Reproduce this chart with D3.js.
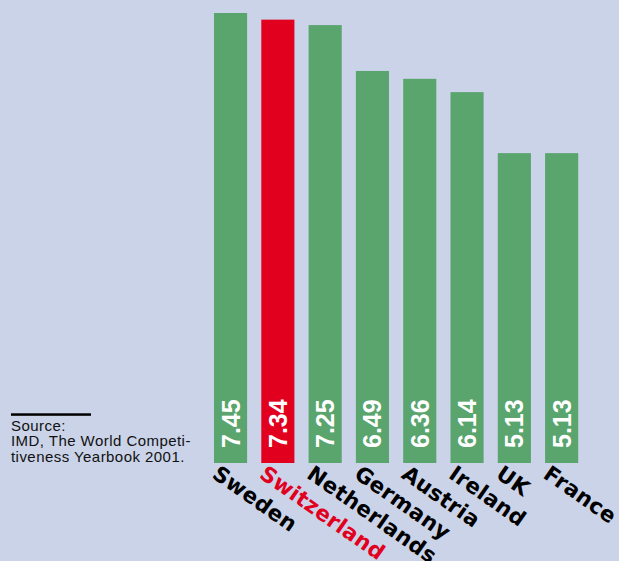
<!DOCTYPE html>
<html><head><meta charset="utf-8">
<script src="https://cdn.jsdelivr.net/npm/d3@7"></script>
<style>
html,body{margin:0;padding:0;background:#cad3e8;}
svg{display:block;}
</style></head>
<body>
<script>
const countries = ["Sweden","Switzerland","Netherlands","Germany","Austria","Ireland","UK","France"];
const values = [7.45,7.34,7.25,6.49,6.36,6.14,5.13,5.13];
const highlight = "Switzerland";
const sourceLines = ["Source:","IMD, The World Competi-","tiveness Yearbook 2001."];

const W = 619, H = 561;
const bg = "#cad3e8", green = "#5aa46e", red = "#e2001f";

const svg = d3.select("body").append("svg").attr("width", W).attr("height", H);
svg.append("rect").attr("width", W).attr("height", H).attr("fill", bg);

const x = d3.scaleBand().domain(countries).range([206.9, 585.3]).paddingInner(0.3).paddingOuter(0.15);
const y = d3.scaleLinear().domain([0, 7.45]).range([463, 13]);

const data = countries.map((c,i)=>({c, v: values[i]}));

svg.selectAll("rect.bar").data(data).join("rect").attr("class","bar")
  .attr("x", d=>x(d.c)).attr("width", x.bandwidth())
  .attr("y", d=>y(d.v)).attr("height", d=>y(0)-y(d.v))
  .attr("fill", d=>d.c===highlight?red:green);

svg.selectAll("text.val").data(data).join("text").attr("class","val")
  .attr("transform", d=>`translate(${x(d.c)+x.bandwidth()/2},448) rotate(-90)`)
  .attr("dy","0.36em")
  .attr("text-anchor","start")
  .attr("fill","#fff")
  .style("font-family","'Liberation Sans', Arial, sans-serif")
  .style("font-weight","bold")
  .style("font-size","25px")
  .text(d=>d.v.toFixed(2));

svg.selectAll("text.cat").data(data).join("text").attr("class","cat")
  .attr("transform", d=>`translate(${x(d.c)-3},477) rotate(35)`)
  .attr("fill", d=>d.c===highlight?red:"#000")
  .style("font-family","'DejaVu Sans', sans-serif")
  .style("font-weight","bold")
  .style("font-size","21.5px")
  .style("letter-spacing","0.3px")
  .text(d=>d.c);

svg.append("rect").attr("x",11).attr("y",413.3).attr("width",80).attr("height",2.5).attr("fill","#000");
svg.selectAll("text.src").data(sourceLines).join("text").attr("class","src")
  .attr("x",11).attr("y",(d,i)=>431+i*15.4)
  .attr("fill","#111")
  .style("font-family","'Liberation Sans', Arial, sans-serif")
  .style("font-size","15px")
  .style("letter-spacing","0.45px")
  .text(d=>d);
</script>
</body></html>
